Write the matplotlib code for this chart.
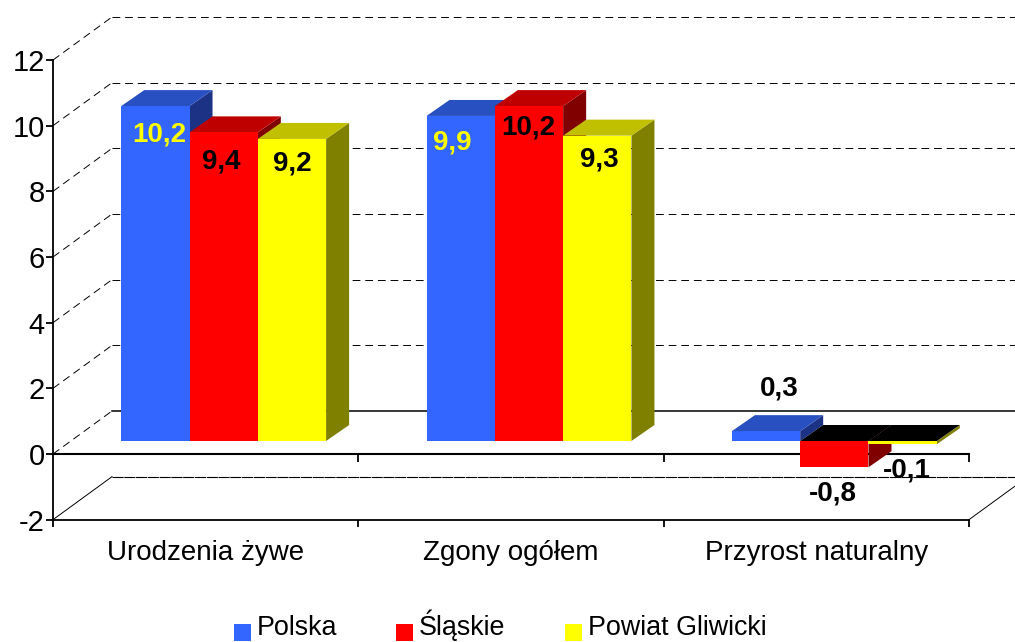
import numpy as np
import matplotlib
matplotlib.use('Agg')
import matplotlib.pyplot as plt
from matplotlib.legend_handler import HandlerPatch
from matplotlib.patches import Rectangle

plt.rcParams['font.family'] = ['Liberation Sans', 'DejaVu Sans']
plt.rcParams['axes.unicode_minus'] = False

categories = ['Urodzenia żywe', 'Zgony ogółem', 'Przyrost naturalny']
series_names = ['Polska', 'Śląskie', 'Powiat Gliwicki']
polska = [10.2, 9.9, 0.3]
slaskie = [9.4, 10.2, -0.8]
powiat = [9.2, 9.3, -0.1]
yticks = [-2, 0, 2, 4, 6, 8, 10, 12]

# front, top, side colours for each series
colors = [('#3366ff', '#2850c0', '#1c3385'),
          ('#ff0000', '#bf0000', '#800000'),
          ('#ffff00', '#c0c000', '#808000')]

W, H = 1015, 642
fig = plt.figure(figsize=(W / 100, H / 100), dpi=100)
# axes box in pixels: x 53..969, y = 12 at 60, y = 0 at 454
px_x = (969 - 53) / 3
px_y = (454 - 60) / 12
bottom_px = 454 + 2 * px_y
ax = fig.add_axes([53 / W, 1 - bottom_px / H, (969 - 53) / W, (bottom_px - 60) / H])
ax.set_xlim(0, 3)
ax.set_ylim(-2, 12)
for s in ['top', 'right']:
    ax.spines[s].set_visible(False)
for s in ['left', 'bottom']:
    ax.spines[s].set_linewidth(1.3)

# depth of the chart and of the bars, in data units
wall_dx, wall_dy = 59 / px_x, 43 / px_y
base_dx, base_dy = 18 / px_x, 13 / px_y
bar_dx, bar_dy = 23 / px_x, 16 / px_y
bar_w = 68.3 / px_x

dash = (0, (8, 5))
for v in yticks:
    ax.plot([0, wall_dx], [v, v + wall_dy], color='k', lw=0.7, ls='-' if v == -2 else dash, clip_on=False, zorder=1)
    if v == -2:
        ax.plot([wall_dx, 3 + wall_dx], [v + wall_dy] * 2, color='k', lw=0.8, ls=(0, (10, 0.6)), clip_on=False, zorder=1)
    elif v == 0:
        ax.plot([wall_dx, 3 + wall_dx], [v + wall_dy] * 2, color='k', lw=1.1, clip_on=False, zorder=1)
    else:
        ax.plot([wall_dx, 3 + wall_dx], [v + wall_dy] * 2, color='k', lw=0.7, ls=dash, clip_on=False, zorder=1)
# right edge of the floor
ax.plot([3, 3 + wall_dx], [-2, -2 + wall_dy], color='k', lw=0.7, clip_on=False, zorder=1)

# front zero line with its ticks
ax.plot([0, 3], [0, 0], color='k', lw=1.5, clip_on=False, zorder=2)
ax.vlines([1, 2, 3], -0.24, 0, color='k', lw=1.3, clip_on=False, zorder=2)

x = np.arange(3) + 0.5 + base_dx
values = [polska, slaskie, powiat]
z = 3
bars = []
for i, vals in enumerate(values):
    front, top, side = colors[i]
    for j, v in enumerate(vals):
        x0 = x[j] + (i - 1.5) * bar_w
        x1 = x0 + bar_w
        y0 = base_dy
        y1 = base_dy + v
        # side and top faces
        ax.fill([x1, x1 + bar_dx, x1 + bar_dx, x1], [y0, y0 + bar_dy, y1 + bar_dy, y1], color=side, lw=0, zorder=z)
        cap_y = max(y0, y1)
        ax.fill([x0, x1, x1 + bar_dx, x0 + bar_dx], [cap_y, cap_y, cap_y + bar_dy, cap_y + bar_dy],
                color=top if v > 0 else 'black', lw=0, zorder=z + 0.1)
    b = ax.bar(x + (i - 1) * bar_w, vals, bar_w, bottom=base_dy, color=front, lw=0, label=series_names[i], zorder=z + 0.2)
    bars.append(b)
    z += 1

# value labels, offset in pixels from the front top centre of the bar
label_off = [[(4, 28), (-8, 27), (13, -43)],
             [(-2, 29), (-1, 21), (-1, 26)],
             [(0, 25), (2, 24), (4, 26)]]
label_col = [['#ffff00', '#ffff00', 'black'], ['black'] * 3, ['black'] * 3]
for i, vals in enumerate(values):
    for j, v in enumerate(vals):
        ax.annotate(str(v).replace('.', ','), (x[j] + (i - 1) * bar_w, base_dy + v),
                    xytext=(label_off[i][j][0] * 0.72, -label_off[i][j][1] * 0.72), textcoords='offset points',
                    ha='center', va='center', fontsize=20, fontweight='bold', color=label_col[i][j],
                    annotation_clip=False, zorder=20)

ax.set_yticks(yticks)
ax.set_xticks([0, 1, 2, 3])
ax.set_xticklabels([])
ax.set_xticks([0.5, 1.5, 2.5], minor=True)
ax.set_xticklabels(categories, minor=True)
ax.tick_params(axis='x', which='major', length=5, width=1.3, direction='out')
ax.tick_params(axis='x', which='minor', length=0, labelsize=20, pad=15)
ax.tick_params(axis='y', length=5, width=1.3, labelsize=21, pad=1)


# legend squares sit a little below the text baseline
def square(legend, orig_handle, xdescent, ydescent, width, height, fontsize):
    return Rectangle((0, -4.3), 12.2, 12.2)


fig.legend(handles=[b[0] for b in bars], labels=series_names, loc='lower left', bbox_to_anchor=(223 / W, -10 / H),
           ncol=3, frameon=False, fontsize=19.4, handlelength=0.63, handleheight=0.63, handletextpad=0.22,
           columnspacing=2.19, borderpad=0.4, borderaxespad=0,
           handler_map={Rectangle: HandlerPatch(patch_func=square)})

fig.savefig('out.png', dpi=100)
